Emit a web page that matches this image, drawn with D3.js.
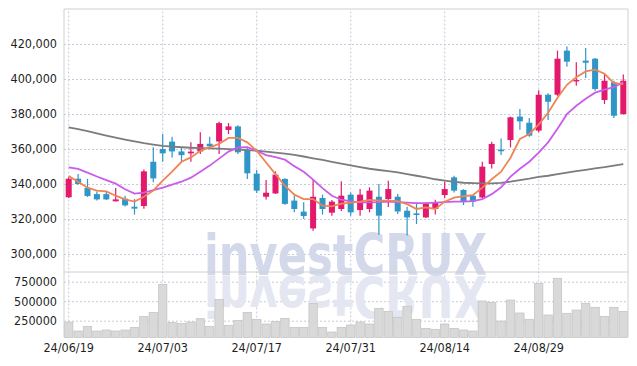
<!DOCTYPE html>
<html>
<head>
<meta charset="utf-8">
<script src="https://cdn.jsdelivr.net/npm/d3@7/dist/d3.min.js"></script>
<style>
  html, body { margin: 0; padding: 0; background: #fff; }
  svg { display: block; }
  .lbl { font-family: "DejaVu Sans Condensed", "DejaVu Sans", sans-serif; font-size: 12.5px; fill: #1f1f1f; font-weight: 500; }
</style>
</head>
<body>
<svg id="chart" width="637" height="366"></svg>
<script>
// ---- data ----
const dates = ["24/06/19","24/06/20","24/06/21","24/06/24","24/06/25","24/06/26","24/06/27","24/06/28","24/07/01","24/07/02",
  "24/07/03","24/07/04","24/07/05","24/07/08","24/07/09","24/07/10","24/07/11","24/07/12","24/07/15","24/07/16",
  "24/07/17","24/07/18","24/07/19","24/07/22","24/07/23","24/07/24","24/07/25","24/07/26","24/07/29","24/07/30",
  "24/07/31","24/08/01","24/08/02","24/08/05","24/08/06","24/08/07","24/08/08","24/08/09","24/08/12","24/08/13",
  "24/08/14","24/08/16","24/08/19","24/08/20","24/08/21","24/08/22","24/08/23","24/08/26","24/08/27","24/08/28",
  "24/08/29","24/08/30","24/09/02","24/09/03","24/09/04","24/09/05","24/09/06","24/09/09","24/09/10","24/09/11"];
const open  = [332400,343000,337700,334200,334200,330100,331600,327000,327400,352700,
  360000,364200,358600,357500,358600,363000,364300,370900,372900,359400,
  345900,332700,334600,342900,330500,324200,314600,332000,323600,325700,
  333900,325100,325700,332700,331400,332700,324700,323200,320900,325700,
  333700,343800,336600,333300,332300,351400,359700,365100,378500,375000,
  370500,391000,391000,416200,398600,410500,411600,388000,398100,380000];
const high  = [343800,345700,342900,335700,335400,337700,333300,331400,348300,361000,
  368600,367000,360500,363800,369500,367000,375500,374800,373500,360900,
  348000,342300,347200,343300,333300,329500,342300,333900,330900,341500,
  335200,337100,338100,340000,341900,334300,327000,329100,329400,331000,
  341300,344700,337000,333700,352700,364200,366000,378500,382800,377700,
  393600,391800,416200,418500,409500,417700,412000,403200,399000,402500];
const low   = [332000,339600,332600,330600,330900,330000,327200,322500,325900,341000,
  352700,355200,352000,352700,357100,360900,357100,368600,357100,342900,
  334900,331200,334300,328200,323800,320000,313300,322500,321900,324600,
  321900,321900,323800,311000,326800,322900,310500,317100,320600,322600,
  331800,335200,328000,327000,331700,348900,356600,360900,371000,367000,
  369500,376600,390400,407000,396200,400600,393300,385700,377700,379600];
const close = [343000,340000,333100,331200,331200,331200,327800,325900,347200,343200,
  357500,358600,356500,358500,362900,361500,374800,372900,358100,346100,
  336200,335000,345300,328600,325700,321700,332700,325700,329900,333300,
  323800,333900,336200,321900,337100,324300,320900,322300,328900,329500,
  337100,336200,329900,329900,349900,362900,358700,378100,375800,367600,
  391000,387000,411600,409900,399400,409300,394300,399000,379000,399000];
const volume = [233000,118000,178000,118000,131000,118000,131000,165000,306000,357000,
  716000,229000,216000,233000,276000,178000,524000,191000,255000,357000,
  268000,208000,242000,281000,165000,165000,473000,165000,105000,165000,
  195000,233000,208000,409000,370000,294000,435000,268000,152000,140000,
  208000,152000,131000,118000,503000,486000,246000,515000,349000,268000,
  729000,323000,794000,345000,387000,473000,422000,306000,422000,370000];
const ma5 = [344500,341300,337900,336200,335800,333300,331200,329900,332700,336200,
  341900,347000,352700,355200,359000,360900,362900,366300,366300,363800,
  359000,352300,345600,339000,333900,331400,331400,327600,327200,328700,
  329300,329900,330900,330500,330500,330200,328500,325700,326600,325700,
  329900,332200,333000,333600,337900,342700,347000,355000,365700,368600,
  373900,380700,389300,396700,401000,404300,405300,403000,397600,397100];
const ma20 = [349500,348600,346500,344300,342200,340200,337000,334500,335000,336500,
  337900,339600,341300,343600,347000,350500,354500,358500,360900,361100,
  359000,356500,355300,353900,350200,347000,342500,337600,333300,331000,
  330100,329500,329500,329600,329900,329600,329300,329100,329100,329300,
  329600,329900,329900,330200,331300,334200,338100,344200,348700,352700,
  357900,363800,371600,379900,384700,388700,392200,393900,395300,398100];
const ma60 = [372300,371300,370200,368900,367700,366500,365400,364300,363300,362500,
  361800,361300,361000,360700,360500,360300,360200,359900,359700,359400,
  359000,358500,357900,357300,356600,355700,354700,353800,352700,351700,
  350600,349600,348700,348000,347300,346600,345600,344700,343800,342700,
  341900,341200,340700,340500,340300,340400,340600,341300,342200,343000,
  344100,344700,345600,346500,347300,348100,348900,349600,350500,351400];
const priceTicks = [300000,320000,340000,360000,380000,400000,420000];
const volumeTicks = [250000,500000,750000];
const xTickIndex = [0,10,20,30,40,50];
const xTickLabels = ["24/06/19","24/07/03","24/07/17","24/07/31","24/08/14","24/08/29"];

// ---- layout ----
const L = 64, R = 628, priceTop = 9, priceBot = 272, volBot = 337.5;
const upColor = "#e2196c", downColor = "#2f96c8";
const gridColor = "#c6cadd";

const svg = d3.select("#chart");
const n = dates.length;
const x = d3.scaleBand().domain(d3.range(n)).range([L, R]).padding(0);
const cx = i => x(i) + x.bandwidth() / 2;
const y = d3.scaleLinear().domain([289700, 440000]).range([priceBot, priceTop]);
const yv = d3.scaleLinear().domain([0, 750000]).range([340.2, 281.7]);

// grid: horizontal price / volume with labels
const gPriceAxis = svg.append("g").attr("transform", `translate(${L},0)`)
  .call(d3.axisLeft(y).tickValues(priceTicks).tickSize(-(R - L)).tickPadding(7).tickFormat(d3.format(",")));
const gVolAxis = svg.append("g").attr("transform", `translate(${L},0)`)
  .call(d3.axisLeft(yv).tickValues(volumeTicks).tickSize(-(R - L)).tickPadding(7).tickFormat(d3.format("d")));
[gPriceAxis, gVolAxis].forEach(g => {
  g.select(".domain").remove();
  g.selectAll(".tick line").attr("stroke", gridColor).attr("stroke-dasharray", "2,2");
  g.selectAll(".tick text").attr("class", "lbl").attr("font-family", null).attr("font-size", null);
});
// vertical grid (both panels) + date labels
const xAxis = d3.axisBottom(x).tickValues(xTickIndex).tickSize(-(volBot - priceTop))
  .tickPadding(6).tickFormat((d, k) => xTickLabels[k]);
const gx = svg.append("g").attr("transform", `translate(0,${volBot})`).call(xAxis);
gx.select(".domain").remove();
gx.selectAll(".tick line").attr("stroke", gridColor).attr("stroke-dasharray", "2,2");
gx.selectAll(".tick text").attr("class", "lbl").attr("font-family", null).attr("font-size", null);

// watermark with reflection (reflection drawn as a mirrored copy)
const wmX = (L + R) / 2 - 0.5, wmBase = 275;
const wmFont = "'DejaVu Sans Condensed', 'DejaVu Sans', sans-serif";
const refl = svg.append("g").attr("transform", `translate(0,${2 * wmBase + 1}) scale(1,-1)`);
refl.append("text").attr("x", wmX).attr("y", wmBase).attr("text-anchor", "middle")
  .style("font-family", wmFont).style("font-weight", "bold")
  .style("font-size", "57px").attr("textLength", 283).attr("lengthAdjust", "spacingAndGlyphs")
  .attr("fill", "#e4e7f2").text("investCRUX");
svg.append("text").attr("x", wmX).attr("y", wmBase).attr("text-anchor", "middle")
  .style("font-family", wmFont).style("font-weight", "bold")
  .style("font-size", "57px").attr("textLength", 283).attr("lengthAdjust", "spacingAndGlyphs")
  .attr("fill", "#d3d9eb").text("investCRUX");

// volume bars
svg.append("g").selectAll("rect").data(volume).join("rect")
  .attr("x", (d, i) => x(i) + 0.5).attr("width", x.bandwidth() - 1)
  .attr("y", d => yv(d)).attr("height", d => Math.max(0, volBot - yv(d)))
  .attr("fill", "#d9d9d9").attr("stroke", "#c2c2c2").attr("stroke-width", 0.7);

// panel borders
const border = svg.append("g").attr("stroke", "#d0d0d0").attr("stroke-width", 1).attr("fill", "none");
border.append("line").attr("x1", L).attr("x2", R).attr("y1", priceTop).attr("y2", priceTop);
border.append("line").attr("x1", L).attr("x2", R).attr("y1", priceBot).attr("y2", priceBot);
border.append("line").attr("x1", L).attr("x2", L).attr("y1", priceTop).attr("y2", volBot);
border.append("line").attr("x1", R).attr("x2", R).attr("y1", priceTop).attr("y2", volBot);

// candles
const candles = svg.append("g").selectAll("g").data(d3.range(n)).join("g");
const col = i => close[i] >= open[i] ? upColor : downColor;
candles.append("line")
  .attr("x1", i => cx(i)).attr("x2", i => cx(i))
  .attr("y1", i => y(high[i])).attr("y2", i => y(low[i]))
  .attr("stroke", col).attr("stroke-width", 1.2);
const bw = x.bandwidth() * 0.64;
candles.append("rect")
  .attr("x", i => cx(i) - bw / 2).attr("width", bw)
  .attr("y", i => y(Math.max(open[i], close[i])))
  .attr("height", i => Math.max(1.2, Math.abs(y(open[i]) - y(close[i]))))
  .attr("fill", col);

// moving averages
const line = arr => d3.line().x((d, i) => cx(i)).y(d => y(d))(arr);
svg.append("path").attr("d", line(ma60)).attr("fill", "none").attr("stroke", "#7c7c7c").attr("stroke-width", 1.8);
svg.append("path").attr("d", line(ma20)).attr("fill", "none").attr("stroke", "#c95de9").attr("stroke-width", 1.8);
svg.append("path").attr("d", line(ma5)).attr("fill", "none").attr("stroke", "#ef8455").attr("stroke-width", 1.8);
</script>
</body>
</html>
